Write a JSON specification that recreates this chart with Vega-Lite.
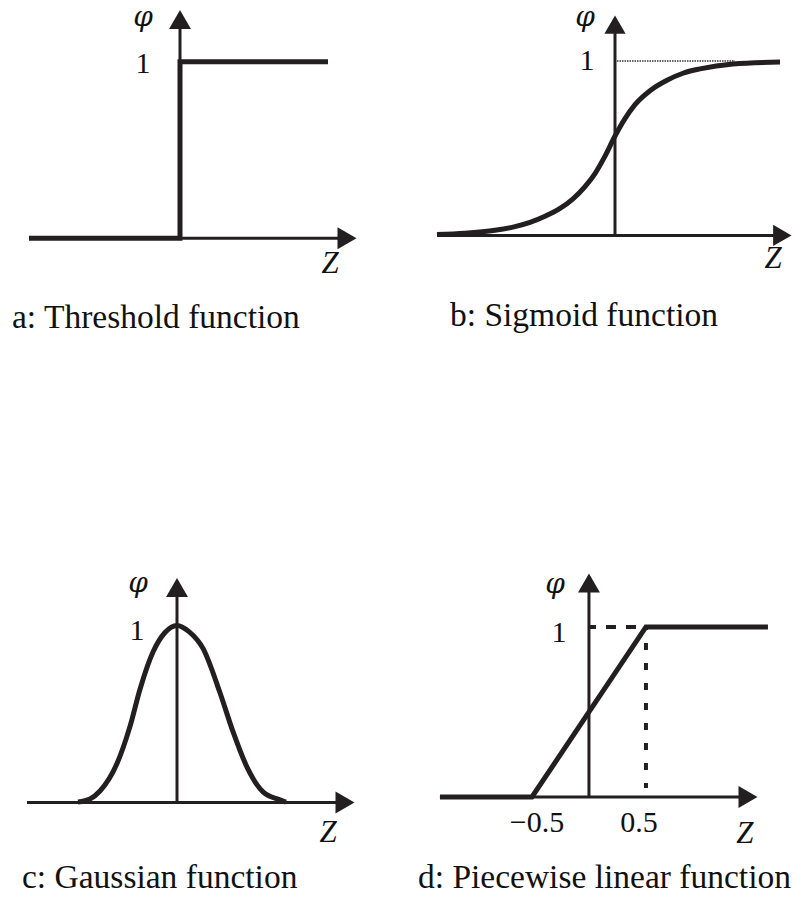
{
  "$schema": "https://vega.github.io/schema/vega-lite/v6.json",
  "background": "white",
  "padding": 0,
  "columns": 2,
  "spacing": 0,
  "bounds": "flush",
  "config": {
    "view": {"stroke": null},
    "text": {"font": "Liberation Serif", "color": "#111"}
  },
  "datasets": {
    "a_curve": [
      {"i": 0, "z": -1.51, "phi": 0},
      {"i": 1, "z": 0, "phi": 0},
      {"i": 2, "z": 0, "phi": 1},
      {"i": 3, "z": 1.48, "phi": 1}
    ],
    "a_axes": [
      {"z": -1.51, "phi": 0, "z2": 1.62, "phi2": 0},
      {"z": 0, "phi": 0, "z2": 0, "phi2": 1.2}
    ],
    "a_arrows": [
      {"z": 1.67, "phi": 0, "dir": "right"},
      {"z": 0, "phi": 1.239, "dir": "up"}
    ],
    "a_text": [
      {"z": -0.37, "phi": 0.936, "label": "1", "role": "num"},
      {"z": -0.37, "phi": 1.2025, "label": "φ", "role": "greek"},
      {"z": 1.5, "phi": -0.197, "label": "Z", "role": "var"},
      {"z": -1.68, "phi": -0.509, "label": "a: Threshold function", "role": "caption"}
    ],
    "b_curve": [
      {"z": -1.78, "phi": 0.005},
      {"z": -1.5, "phi": 0.013},
      {"z": -1.2, "phi": 0.03},
      {"z": -1.02, "phi": 0.048},
      {"z": -0.85, "phi": 0.075},
      {"z": -0.7, "phi": 0.11},
      {"z": -0.55, "phi": 0.155},
      {"z": -0.42, "phi": 0.21},
      {"z": -0.3, "phi": 0.28},
      {"z": -0.2, "phi": 0.355},
      {"z": -0.1, "phi": 0.455},
      {"z": 0, "phi": 0.57},
      {"z": 0.1, "phi": 0.67},
      {"z": 0.2, "phi": 0.75},
      {"z": 0.35, "phi": 0.83},
      {"z": 0.52, "phi": 0.89},
      {"z": 0.68, "phi": 0.93},
      {"z": 0.85, "phi": 0.955},
      {"z": 1.18, "phi": 0.983},
      {"z": 1.65, "phi": 0.994}
    ],
    "b_axes": [
      {"z": -1.78, "phi": 0, "z2": 1.65, "phi2": 0},
      {"z": 0, "phi": 0, "z2": 0, "phi2": 1.18}
    ],
    "b_arrows": [
      {"z": 1.673, "phi": 0, "dir": "right"},
      {"z": 0, "phi": 1.209, "dir": "up"}
    ],
    "b_guide": [
      {"z": 0.02, "phi": 1, "z2": 1.2, "phi2": 1}
    ],
    "b_text": [
      {"z": -0.28, "phi": 0.949, "label": "1", "role": "num"},
      {"z": -0.3, "phi": 1.201, "label": "φ", "role": "greek"},
      {"z": 1.58, "phi": -0.186, "label": "Z", "role": "var"},
      {"z": -1.65, "phi": -0.519, "label": "b: Sigmoid function", "role": "caption"}
    ],
    "c_curve": [
      {"z": -0.99, "phi": 0.003},
      {"z": -0.87, "phi": 0.02},
      {"z": -0.77, "phi": 0.065},
      {"z": -0.6, "phi": 0.22},
      {"z": -0.47, "phi": 0.43},
      {"z": -0.37, "phi": 0.64},
      {"z": -0.24, "phi": 0.85},
      {"z": -0.12, "phi": 0.96},
      {"z": 0, "phi": 1},
      {"z": 0.12, "phi": 0.965},
      {"z": 0.26, "phi": 0.87},
      {"z": 0.43, "phi": 0.62},
      {"z": 0.56, "phi": 0.4},
      {"z": 0.7, "phi": 0.2},
      {"z": 0.86, "phi": 0.06},
      {"z": 1.03, "phi": 0.015},
      {"z": 1.09, "phi": 0.003}
    ],
    "c_axes": [
      {"z": -1.5, "phi": 0, "z2": 1.6, "phi2": 0},
      {"z": 0, "phi": 0, "z2": 0, "phi2": 1.18}
    ],
    "c_arrows": [
      {"z": 1.68, "phi": 0, "dir": "right"},
      {"z": 0, "phi": 1.214, "dir": "up"}
    ],
    "c_text": [
      {"z": -0.4, "phi": 0.918, "label": "1", "role": "num"},
      {"z": -0.39, "phi": 1.189, "label": "φ", "role": "greek"},
      {"z": 1.51, "phi": -0.222, "label": "Z", "role": "var"},
      {"z": -1.55, "phi": -0.482, "label": "c: Gaussian function", "role": "caption"}
    ],
    "d_curve": [
      {"z": -1.307, "phi": 0},
      {"z": -0.5, "phi": 0},
      {"z": 0.5, "phi": 1},
      {"z": 1.57, "phi": 1}
    ],
    "d_axes": [
      {"z": -1.307, "phi": 0, "z2": 1.32, "phi2": 0},
      {"z": 0, "phi": 0, "z2": 0, "phi2": 1.22}
    ],
    "d_arrows": [
      {"z": 1.395, "phi": 0, "dir": "right"},
      {"z": 0, "phi": 1.259, "dir": "up"}
    ],
    "d_hguide": [
      {"z": 0, "phi": 1, "z2": 0.5, "phi2": 1}
    ],
    "d_vguide": [
      {"z": 0.5, "phi": 1, "z2": 0.5, "phi2": 0.053}
    ],
    "d_text": [
      {"z": -0.263, "phi": 0.912, "label": "1", "role": "num"},
      {"z": -0.298, "phi": 1.2, "label": "φ", "role": "greek"},
      {"z": 1.368, "phi": -0.271, "label": "Z", "role": "var"},
      {"z": -0.456, "phi": -0.206, "label": "−0.5", "role": "num"},
      {"z": 0.439, "phi": -0.206, "label": "0.5", "role": "num"},
      {"z": -1.5, "phi": -0.535, "label": "d: Piecewise linear function", "role": "caption"}
    ]
  },
  "concat": [
    {
      "width": 398,
      "height": 450,
      "encoding": {
        "x": {"field": "z", "type": "quantitative", "scale": {"domain": [-1.8, 2.18], "nice": false, "zero": false}, "axis": null},
        "y": {"field": "phi", "type": "quantitative", "scale": {"domain": [-1.2, 1.35], "nice": false, "zero": false}, "axis": null}
      },
      "layer": [
        {"data": {"name": "a_axes"}, "mark": {"type": "rule", "strokeWidth": 3, "color": "#231f20"},
         "encoding": {"x2": {"field": "z2"}, "y2": {"field": "phi2"}}},
        {"data": {"name": "a_curve"}, "mark": {"type": "line", "strokeWidth": 5, "color": "#231f20", "strokeCap": "butt", "strokeJoin": "miter"},
         "encoding": {"order": {"field": "i", "type": "quantitative"}}},
        {"data": {"name": "a_arrows"}, "mark": {"type": "point", "filled": true, "opacity": 1, "size": 480, "color": "#231f20"},
         "encoding": {"shape": {"field": "dir", "type": "nominal", "scale": {"domain": ["right", "up"], "range": ["triangle-right", "triangle-up"]}, "legend": null}}},
        {"data": {"name": "a_text"}, "transform": [{"filter": "datum.role === 'num'"}],
         "mark": {"type": "text", "fontSize": 30, "baseline": "alphabetic", "align": "center"},
         "encoding": {"text": {"field": "label"}}},
        {"data": {"name": "a_text"}, "transform": [{"filter": "datum.role === 'var'"}],
         "mark": {"type": "text", "fontSize": 31, "fontStyle": "italic", "baseline": "alphabetic", "align": "center"},
         "encoding": {"text": {"field": "label"}}},
        {"data": {"name": "a_text"}, "transform": [{"filter": "datum.role === 'greek'"}],
         "mark": {"type": "text", "font": "DejaVu Serif", "fontSize": 28, "fontStyle": "italic", "baseline": "alphabetic", "align": "center"},
         "encoding": {"text": {"field": "label"}}},
        {"data": {"name": "a_text"}, "transform": [{"filter": "datum.role === 'caption'"}],
         "mark": {"type": "text", "fontSize": 33.5, "baseline": "alphabetic", "align": "left"},
         "encoding": {"text": {"field": "label"}}}
      ]
    },
    {
      "width": 398,
      "height": 450,
      "encoding": {
        "x": {"field": "z", "type": "quantitative", "scale": {"domain": [-2.17, 1.81], "nice": false, "zero": false}, "axis": null},
        "y": {"field": "phi", "type": "quantitative", "scale": {"domain": [-1.23, 1.35], "nice": false, "zero": false}, "axis": null}
      },
      "layer": [
        {"data": {"name": "b_axes"}, "mark": {"type": "rule", "strokeWidth": 3, "color": "#231f20"},
         "encoding": {"x2": {"field": "z2"}, "y2": {"field": "phi2"}}},
        {"data": {"name": "b_guide"}, "mark": {"type": "rule", "strokeWidth": 1.4, "color": "#333", "strokeDash": [1.5, 1]},
         "encoding": {"x2": {"field": "z2"}, "y2": {"field": "phi2"}}},
        {"data": {"name": "b_curve"}, "mark": {"type": "line", "strokeWidth": 5, "color": "#231f20", "strokeCap": "butt", "interpolate": "monotone"},
         "encoding": {}},
        {"data": {"name": "b_arrows"}, "mark": {"type": "point", "filled": true, "opacity": 1, "size": 450, "color": "#231f20"},
         "encoding": {"shape": {"field": "dir", "type": "nominal", "scale": {"domain": ["right", "up"], "range": ["triangle-right", "triangle-up"]}, "legend": null}}},
        {"data": {"name": "b_text"}, "transform": [{"filter": "datum.role === 'num'"}],
         "mark": {"type": "text", "fontSize": 30, "baseline": "alphabetic", "align": "center"},
         "encoding": {"text": {"field": "label"}}},
        {"data": {"name": "b_text"}, "transform": [{"filter": "datum.role === 'var'"}],
         "mark": {"type": "text", "fontSize": 31, "fontStyle": "italic", "baseline": "alphabetic", "align": "center"},
         "encoding": {"text": {"field": "label"}}},
        {"data": {"name": "b_text"}, "transform": [{"filter": "datum.role === 'greek'"}],
         "mark": {"type": "text", "font": "DejaVu Serif", "fontSize": 28, "fontStyle": "italic", "baseline": "alphabetic", "align": "center"},
         "encoding": {"text": {"field": "label"}}},
        {"data": {"name": "b_text"}, "transform": [{"filter": "datum.role === 'caption'"}],
         "mark": {"type": "text", "fontSize": 33.5, "baseline": "alphabetic", "align": "left"},
         "encoding": {"text": {"field": "label"}}}
      ]
    },
    {
      "width": 398,
      "height": 450,
      "encoding": {
        "x": {"field": "z", "type": "quantitative", "scale": {"domain": [-1.77, 2.21], "nice": false, "zero": false}, "axis": null},
        "y": {"field": "phi", "type": "quantitative", "scale": {"domain": [-0.55, 1.99], "nice": false, "zero": false}, "axis": null}
      },
      "layer": [
        {"data": {"name": "c_axes"}, "mark": {"type": "rule", "strokeWidth": 3, "color": "#231f20"},
         "encoding": {"x2": {"field": "z2"}, "y2": {"field": "phi2"}}},
        {"data": {"name": "c_curve"}, "mark": {"type": "line", "strokeWidth": 5, "color": "#231f20", "strokeCap": "butt", "interpolate": "monotone"},
         "encoding": {}},
        {"data": {"name": "c_arrows"}, "mark": {"type": "point", "filled": true, "opacity": 1, "size": 480, "color": "#231f20"},
         "encoding": {"shape": {"field": "dir", "type": "nominal", "scale": {"domain": ["right", "up"], "range": ["triangle-right", "triangle-up"]}, "legend": null}}},
        {"data": {"name": "c_text"}, "transform": [{"filter": "datum.role === 'num'"}],
         "mark": {"type": "text", "fontSize": 30, "baseline": "alphabetic", "align": "center"},
         "encoding": {"text": {"field": "label"}}},
        {"data": {"name": "c_text"}, "transform": [{"filter": "datum.role === 'var'"}],
         "mark": {"type": "text", "fontSize": 31, "fontStyle": "italic", "baseline": "alphabetic", "align": "center"},
         "encoding": {"text": {"field": "label"}}},
        {"data": {"name": "c_text"}, "transform": [{"filter": "datum.role === 'greek'"}],
         "mark": {"type": "text", "font": "DejaVu Serif", "fontSize": 28, "fontStyle": "italic", "baseline": "alphabetic", "align": "center"},
         "encoding": {"text": {"field": "label"}}},
        {"data": {"name": "c_text"}, "transform": [{"filter": "datum.role === 'caption'"}],
         "mark": {"type": "text", "fontSize": 33.5, "baseline": "alphabetic", "align": "left"},
         "encoding": {"text": {"field": "label"}}}
      ]
    },
    {
      "width": 398,
      "height": 450,
      "encoding": {
        "x": {"field": "z", "type": "quantitative", "scale": {"domain": [-1.675, 1.816], "nice": false, "zero": false}, "axis": null},
        "y": {"field": "phi", "type": "quantitative", "scale": {"domain": [-0.606, 2.041], "nice": false, "zero": false}, "axis": null}
      },
      "layer": [
        {"data": {"name": "d_axes"}, "mark": {"type": "rule", "strokeWidth": 3, "color": "#231f20"},
         "encoding": {"x2": {"field": "z2"}, "y2": {"field": "phi2"}}},
        {"data": {"name": "d_hguide"}, "mark": {"type": "rule", "strokeWidth": 4, "color": "#231f20", "strokeDash": [10, 10], "strokeDashOffset": 3},
         "encoding": {"x2": {"field": "z2"}, "y2": {"field": "phi2"}}},
        {"data": {"name": "d_vguide"}, "mark": {"type": "rule", "strokeWidth": 4, "color": "#231f20", "strokeDash": [7, 13], "strokeDashOffset": 4},
         "encoding": {"x2": {"field": "z2"}, "y2": {"field": "phi2"}}},
        {"data": {"name": "d_curve"}, "mark": {"type": "line", "strokeWidth": 5, "color": "#231f20", "strokeCap": "butt", "strokeJoin": "miter"},
         "encoding": {}},
        {"data": {"name": "d_arrows"}, "mark": {"type": "point", "filled": true, "opacity": 1, "size": 480, "color": "#231f20"},
         "encoding": {"shape": {"field": "dir", "type": "nominal", "scale": {"domain": ["right", "up"], "range": ["triangle-right", "triangle-up"]}, "legend": null}}},
        {"data": {"name": "d_text"}, "transform": [{"filter": "datum.role === 'num'"}],
         "mark": {"type": "text", "fontSize": 30, "baseline": "alphabetic", "align": "center"},
         "encoding": {"text": {"field": "label"}}},
        {"data": {"name": "d_text"}, "transform": [{"filter": "datum.role === 'var'"}],
         "mark": {"type": "text", "fontSize": 31, "fontStyle": "italic", "baseline": "alphabetic", "align": "center"},
         "encoding": {"text": {"field": "label"}}},
        {"data": {"name": "d_text"}, "transform": [{"filter": "datum.role === 'greek'"}],
         "mark": {"type": "text", "font": "DejaVu Serif", "fontSize": 28, "fontStyle": "italic", "baseline": "alphabetic", "align": "center"},
         "encoding": {"text": {"field": "label"}}},
        {"data": {"name": "d_text"}, "transform": [{"filter": "datum.role === 'caption'"}],
         "mark": {"type": "text", "fontSize": 33.5, "baseline": "alphabetic", "align": "left"},
         "encoding": {"text": {"field": "label"}}}
      ]
    }
  ]
}
